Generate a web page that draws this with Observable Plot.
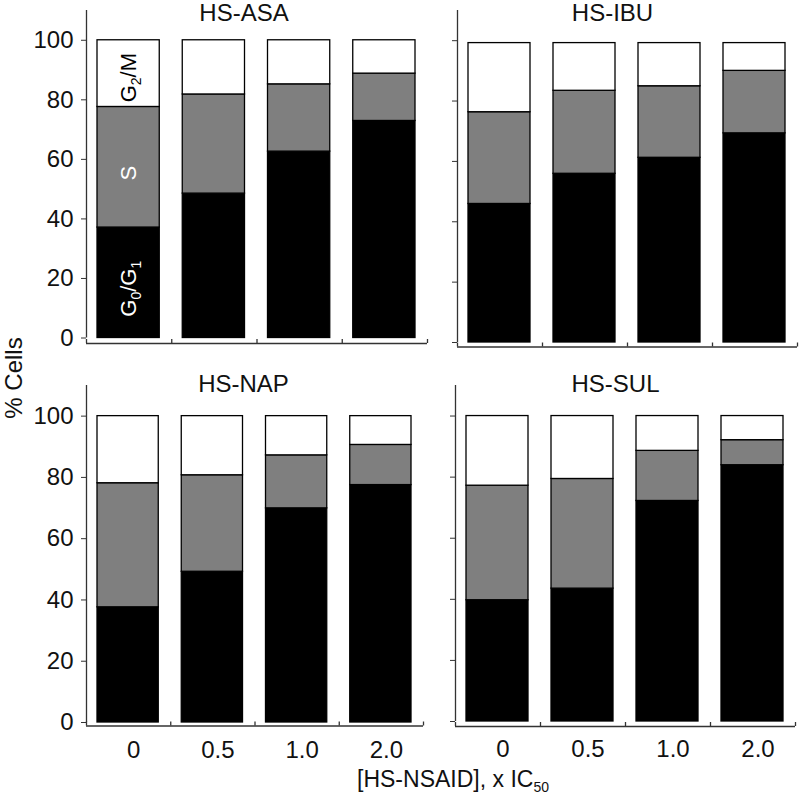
<!DOCTYPE html>
<html><head><meta charset="utf-8">
<script src="https://cdn.jsdelivr.net/npm/d3@7"></script>
<script src="https://cdn.jsdelivr.net/npm/@observablehq/plot@0.6"></script>
<style>
body{margin:0;background:#fff;}
#fig{position:relative;width:800px;height:803px;font-family:"Liberation Sans",Arial,sans-serif;color:#111;overflow:hidden;}
.panel{position:absolute;}
.panel svg{overflow:visible;}
#ylab{position:absolute;left:14px;top:378px;transform:translate(-50%,-50%) rotate(-90deg);font-size:24px;white-space:nowrap;line-height:22px;}
#xlab{position:absolute;left:453px;top:767px;transform:translateX(-50%);font-size:23px;white-space:nowrap;line-height:24px;}
#xlab sub{font-size:14px;vertical-align:-5px;line-height:0;}
</style></head><body>
<div id="fig">
  <div id="ylab">% Cells</div>
  <div id="xlab">[HS-NSAID], x IC<sub>50</sub></div>
</div>
<script>
// ---- data (percent of cells per phase) ----
const doses = ["0", "0.5", "1.0", "2.0"];
const phases = ["G0/G1", "S", "G2/M"];
const phaseColors = ["#000000", "#7f7f7f", "#ffffff"];
const yTicks = [0, 20, 40, 60, 80, 100];

const asaG0G1 = [37.1, 48.5, 62.6, 72.9];
const asaS    = [40.5, 33.3, 22.6, 15.9];
const asaG2M  = [22.4, 18.2, 14.8, 11.2];

const ibuG0G1 = [45.9, 55.9, 61.2, 69.3];
const ibuS    = [30.4, 27.5, 23.7, 20.7];
const ibuG2M  = [22.9, 15.8, 14.3, 9.2];

const napG0G1 = [37.6, 49.2, 69.9, 77.5];
const napS    = [40.5, 31.5, 17.3, 13.1];
const napG2M  = [21.9, 19.3, 12.8, 9.4];

const sulG0G1 = [39.7, 43.5, 72.2, 83.9];
const sulS    = [37.5, 35.9, 16.4, 8.2];
const sulG2M  = [22.8, 20.6, 11.4, 7.9];

const FONT = "'Liberation Sans', Arial, sans-serif";

function subscriptify(svg) {
  svg.querySelectorAll("text").forEach(t => {
    const s = t.textContent;
    if (!/^G\d/.test(s)) return;
    const parts = s.split(/(\d)/).filter(p => p !== "");
    while (t.firstChild) t.removeChild(t.firstChild);
    let shifted = false;
    parts.forEach(p => {
      const ts = document.createElementNS("http://www.w3.org/2000/svg", "tspan");
      ts.textContent = p;
      if (/\d/.test(p)) {
        ts.setAttribute("font-size", "14");
        ts.setAttribute("dy", "5");
        shifted = true;
      } else if (shifted) {
        ts.setAttribute("dy", "-5");
        shifted = false;
      }
      t.appendChild(ts);
    });
  });
}

function drawPanel(cfg) {
  const {drug, cols, left, top, width, height, mLeft, mRight, mTop, mBottom,
         axisGap, showY, showX, titleDx, titleDy, phaseLabels} = cfg;
  const rows = [];
  doses.forEach((d, i) => phases.forEach((p, k) =>
    rows.push({drug, dose: d, i, phase: p, value: cols[k][i]})));

  const marks = [
    Plot.rectY(rows, {
      x1: d => d.i, x2: d => d.i + 1, y: "value", fill: "phase",
      stroke: "#000", strokeWidth: 1.3, insetLeft: 11, insetRight: 12
    }),
    Plot.ruleX([0], {stroke: "#333", strokeWidth: 1.3}),
    Plot.ruleY([0], {stroke: "#333", strokeWidth: 1.3, dy: axisGap}),
    Plot.axisY({ticks: yTicks, tickSize: 5, tickPadding: 8, fontSize: 24, label: null,
      stroke: "#333", fill: "#111",
      tickFormat: showY ? (d => String(d)) : (() => "")}),
    Plot.axisX({ticks: doses.map((d, i) => i).concat([doses.length]), tickSize: -4, label: null,
      stroke: "#333", strokeWidth: 1.3, dy: axisGap, tickFormat: () => ""}),
    Plot.text([drug], {frameAnchor: "top", text: d => d, fontSize: 24,
      lineAnchor: "middle", dx: titleDx, dy: titleDy, fill: "#111"})
  ];
  if (showX) {
    marks.push(Plot.axisX({ticks: doses.map((d, i) => i + 0.5), label: null,
      tickFormat: v => doses[Math.floor(v)], tickSize: 0, tickPadding: 18,
      fontSize: 24, dx: 5, fill: "#111"}));
  }
  if (phaseLabels) {
    let base = 0;
    const lab = phases.map((p, k) => {
      const v = cols[k][0];
      const r = {phase: p, mid: base + v / 2, x: 0.5};
      base += v;
      return r;
    });
    marks.push(Plot.text(lab.filter(d => d.phase === "G2/M"), {
      x: "x", y: "mid", text: "phase", rotate: -90, fontSize: 22, fill: "#000", dy: 4}));
    marks.push(Plot.text(lab.filter(d => d.phase !== "G2/M"), {
      x: "x", y: "mid", text: "phase", rotate: -90, fontSize: 22, fill: "#fff", dy: 6}));
  }

  const svg = Plot.plot({
    width, height,
    marginLeft: mLeft, marginRight: mRight, marginTop: mTop, marginBottom: mBottom,
    x: {type: "linear", domain: [0, doses.length], label: null},
    y: {domain: [0, 110], label: null},
    color: {domain: phases, range: phaseColors},
    style: {fontFamily: FONT, fontSize: "24px", color: "#111", background: "transparent", overflow: "visible"},
    marks
  });
  subscriptify(svg);
  const div = document.createElement("div");
  div.className = "panel";
  div.style.left = left + "px";
  div.style.top = top + "px";
  div.appendChild(svg);
  document.getElementById("fig").appendChild(div);
}

drawPanel({drug: "HS-ASA", cols: [asaG0G1, asaS, asaG2M], left: 0, top: 0, width: 430, height: 365,
  mLeft: 86, mRight: 3, mTop: 10, mBottom: 27.5, axisGap: 5.5, showY: true, showX: false,
  titleDx: -13, titleDy: 3, phaseLabels: true});
drawPanel({drug: "HS-IBU", cols: [ibuG0G1, ibuS, ibuG2M], left: 430, top: 0, width: 370, height: 365,
  mLeft: 27, mRight: 3, mTop: 10, mBottom: 23, axisGap: 4.5, showY: false, showX: false,
  titleDx: -15, titleDy: 3, phaseLabels: false});
drawPanel({drug: "HS-NAP", cols: [napG0G1, napS, napG2M], left: 0, top: 365, width: 430, height: 438,
  mLeft: 86, mRight: 7, mTop: 20, mBottom: 81, axisGap: 3.5, showY: true, showX: true,
  titleDx: -11.5, titleDy: -1, phaseLabels: false});
drawPanel({drug: "HS-SUL", cols: [sulG0G1, sulS, sulG2M], left: 430, top: 365, width: 370, height: 438,
  mLeft: 25, mRight: 5, mTop: 20, mBottom: 82, axisGap: 5, showY: false, showX: true,
  titleDx: -10, titleDy: -1, phaseLabels: false});
</script>
</body></html>
